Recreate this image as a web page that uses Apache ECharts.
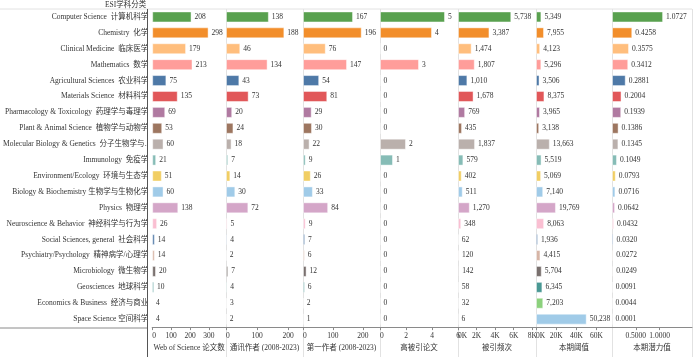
<!DOCTYPE html>
<html>
<head>
<meta charset="utf-8">
<script src="https://cdn.jsdelivr.net/npm/echarts@6/dist/echarts.min.js"></script>
<style>
html,body{margin:0;padding:0;background:#fff;}
#chart{width:693px;height:357px;}
</style>
</head>
<body>
<div id="chart"></div>
<script>
const categories = [
  'Computer Science  计算机科学','Chemistry  化学','Clinical Medicine  临床医学','Mathematics  数学',
  'Agricultural Sciences  农业科学','Materials Science  材料科学','Pharmacology & Toxicology  药理学与毒理学',
  'Plant & Animal Science  植物学与动物学','Molecular Biology & Genetics  分子生物学与..','Immunology  免疫学',
  'Environment/Ecology  环境与生态学','Biology & Biochemistry 生物学与生物化学','Physics  物理学',
  'Neuroscience & Behavior  神经科学与行为学','Social Sciences, general  社会科学','Psychiatry/Psychology  精神病学/心理学',
  'Microbiology  微生物学','Geosciences  地球科学','Economics & Business  经济与商业','Space Science 空间科学'
];
const barColors = ['#59A14F','#F28E2B','#FFBE7D','#FF9D9A','#4E79A7','#E15759','#B07AA1','#9D7660','#BAB0AC','#86BCB6',
  '#F1CE63','#A0CBE8','#D4A6C8','#FABFD2','#4E79A7','#D7B5A6','#79706E','#499894','#8CD17D','#A0CBE8'];

const wosPapers      = [208,298,179,213,75,135,69,53,60,21,51,60,138,26,14,14,20,10,4,4];
const corrAuthor     = [138,188,46,134,43,73,20,24,18,7,14,30,72,5,4,2,7,4,3,2];
const firstAuthor    = [167,196,76,147,54,81,29,30,22,9,26,33,84,9,7,6,12,6,2,1];
const highlyCited    = [5,4,0,3,0,0,0,0,2,1,0,0,0,0,0,0,0,0,0,0];
const citations      = [5738,3387,1474,1807,1010,1678,769,435,1837,579,402,511,1270,348,62,120,142,58,32,6];
const threshold      = [5349,7955,4123,5296,3506,8375,3965,3138,13663,5519,5069,7140,19769,8063,1936,4415,5704,6345,7203,50238];
const potential      = [1.0727,0.4258,0.3575,0.3412,0.2881,0.2004,0.1939,0.1386,0.1345,0.1049,0.0793,0.0716,0.0642,0.0432,0.0320,0.0272,0.0249,0.0091,0.0044,0.0001];

const ticksWos = [0,100,200,300];
const ticksCorr = [0,100,200];
const ticksFirst = [0,100,200];
const ticksHigh = [0,2,4,6];
const ticksCit = [0,2000,4000,6000,8000];
const ticksThr = [0,20000,40000,60000];
const ticksPot = [0.5,1.0];

const FONT = "'Liberation Serif','Noto Sans CJK SC',serif";
const fmtK = v => (v/1000) + 'K';
const fmtComma = v => v.toLocaleString('en-US');

const panels = [
  {name:'Web of Science 论文数', data:wosPapers, max:390, ticks:ticksWos, tf:v=>String(v), vf:fmtComma, zero:true},
  {name:'通讯作者 (2008-2023)', data:corrAuthor, max:248, ticks:ticksCorr, tf:v=>String(v), vf:fmtComma, zero:true},
  {name:'第一作者 (2008-2023)', data:firstAuthor, max:257, ticks:ticksFirst, tf:v=>String(v), vf:fmtComma, zero:true},
  {name:'高被引论文', data:highlyCited, max:6, ticks:ticksHigh, tf:v=>String(v), vf:fmtComma, zero:true},
  {name:'被引频次', data:citations, max:8400, ticks:ticksCit, tf:fmtK, vf:fmtComma, zero:true},
  {name:'本期阈值', data:threshold, max:75300, ticks:ticksThr, tf:fmtK, vf:fmtComma, zero:true},
  {name:'本期潜力值', data:potential, max:1.68, ticks:ticksPot, tf:v=>v.toFixed(4), vf:v=>v.toFixed(4), zero:false}
];

// layout (pixels)
const dividers = [147,226,303,380,458,536,612,692];
const TOP = 9, AXIS_Y = 328, H = 357;

const grids = [], xAxes = [], yAxes = [], series = [];
panels.forEach((p,i)=>{
  const left = dividers[i], right = dividers[i+1];
  grids.push({left:left, width:right-left, top:TOP, height:AXIS_Y-TOP, containLabel:false});
  const axisLabel = {show:true, customValues:p.ticks, formatter:p.tf, fontFamily:FONT, fontSize:7.5, color:'#333', margin:5,
      hideOverlap:false};
  if (p.zero) axisLabel.alignMinLabel = 'left';
  xAxes.push({
    gridIndex:i, type:'value', min:0, max:p.max,
    axisLine:{show:true, lineStyle:{color:'#8a8a8a', width:1}},
    axisTick:{show:true, length:3, customValues:p.ticks, lineStyle:{color:'#8a8a8a'}},
    axisLabel:axisLabel,
    splitLine:{show:false},
    name:p.name, nameLocation:'middle', nameGap:15,
    nameTextStyle:{fontFamily:FONT, fontSize:7.5, color:'#333'}
  });
  yAxes.push({
    gridIndex:i, type:'category', data:categories, inverse:true,
    axisLine:{show:false}, axisTick:{show:false},
    axisLabel:{show:i===0, fontFamily:FONT, fontSize:7.5, color:'#333', margin:4},
    splitLine:{show:false}
  });
  series.push({
    type:'bar', xAxisIndex:i, yAxisIndex:i, barWidth:11,
    data:p.data.map((v,k)=>({value:v, itemStyle:{color:barColors[k]}})),
    itemStyle:{borderColor:'rgba(255,255,255,0.45)', borderWidth:1},
    label:{show:true, position:'right', distance:3, fontFamily:FONT, fontSize:7.5, color:'#333',
      formatter:prm=>p.vf(prm.value)},
    silent:true, animation:false
  });
});

const graphics = [];
graphics.push({type:'line', shape:{x1:0,y1:TOP,x2:692,y2:TOP}, style:{stroke:'#e2e2e2',lineWidth:1}, z:0});
graphics.push({type:'line', shape:{x1:0,y1:AXIS_Y,x2:dividers[0],y2:AXIS_Y}, style:{stroke:'#8a8a8a',lineWidth:1}, z:5});
dividers.forEach((x,i)=>{
  graphics.push({type:'line', shape:{x1:x+0.5,y1:TOP,x2:x+0.5,y2:H},
    style:{stroke: i===0 ? '#555' : '#e2e2e2', lineWidth:1}, z: i===0 ? 6 : 0});
});
graphics.push({type:'text', left:105, top:1, style:{text:'ESI学科分类', font:"7.5px "+FONT, fill:'#333'}});

const chart = echarts.init(document.getElementById('chart'), null, {renderer:'canvas'});
chart.setOption({
  animation:false,
  grid:grids, xAxis:xAxes, yAxis:yAxes, series:series, graphic:graphics
});
</script>
</body>
</html>
